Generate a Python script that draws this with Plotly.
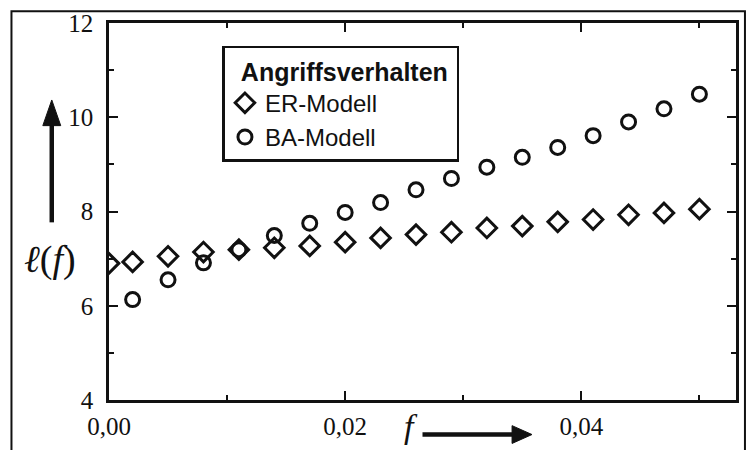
import plotly.graph_objects as go

# ---- data ----
f_er = [0.000, 0.002, 0.005, 0.008, 0.011, 0.014, 0.017, 0.020, 0.023, 0.026,
        0.029, 0.032, 0.035, 0.038, 0.041, 0.044, 0.047, 0.050]
l_er = [6.90, 6.93, 7.05, 7.14, 7.19, 7.23, 7.27, 7.35, 7.44, 7.51,
        7.56, 7.65, 7.69, 7.78, 7.83, 7.93, 7.97, 8.05]
f_ba = [0.002, 0.005, 0.008, 0.011, 0.014, 0.017, 0.020, 0.023, 0.026,
        0.029, 0.032, 0.035, 0.038, 0.041, 0.044, 0.047, 0.050]
l_ba = [6.13, 6.55, 6.91, 7.19, 7.49, 7.75, 7.98, 8.19, 8.46,
        8.70, 8.94, 9.15, 9.36, 9.61, 9.90, 10.18, 10.49]

x_tickvals = [0.0, 0.02, 0.04]
x_ticktext = ["0,00", "0,02", "0,04"]
y_tickvals = [4, 6, 8, 10, 12]
y_ticktext = ["4", "6", "8", "10", "12"]

legend_title = "Angriffsverhalten"
name_er = "ER-Modell"
name_ba = "BA-Modell"

# ---- layout geometry ----
W, H = 749, 450
L, R, T, B = 109, 10, 20, 48
PW, PH = W - L - R, H - T - B


def px(x):
    return (x - L) / PW


def py(y):
    return (H - B - y) / PH


INK = "#111111"
SERIF = "Liberation Serif, DejaVu Serif, serif"
SANS = "Liberation Sans, Arial, sans-serif"

fig = go.Figure()
fig.add_trace(go.Scatter(
    x=f_er, y=l_er, mode="markers", name=name_er,
    marker=dict(symbol="diamond-open", size=15, color=INK,
                line=dict(width=3, color=INK)),
))
fig.add_trace(go.Scatter(
    x=f_ba, y=l_ba, mode="markers", name=name_ba,
    marker=dict(symbol="circle-open", size=14, color=INK,
                line=dict(width=3, color=INK)),
))

axis_common = dict(
    showline=True, linecolor=INK, linewidth=2.5, mirror="ticks",
    ticks="inside", ticklen=9, tickwidth=2, tickcolor=INK,
    showgrid=False, zeroline=False,
    tickfont=dict(family=SERIF, size=25, color=INK),
)

fig.update_xaxes(
    range=[0, 0.0531], tickvals=x_tickvals, ticktext=x_ticktext,
    minor=dict(dtick=0.01, tick0=0, ticks="inside", ticklen=5, tickwidth=2,
               tickcolor=INK, showgrid=False),
    ticklabelstandoff=2,
    **axis_common,
)
fig.update_yaxes(
    range=[4, 12], tickvals=y_tickvals, ticktext=y_ticktext,
    minor=dict(dtick=1, tick0=0, ticks="inside", ticklen=5, tickwidth=2,
               tickcolor=INK, showgrid=False),
    ticklabelstandoff=8,
    **axis_common,
)

shapes = [
    # outer frame
    dict(type="rect", xref="paper", yref="paper",
         x0=px(11), x1=px(748), y0=py(470), y1=py(8),
         line=dict(color=INK, width=2), layer="below"),
    # y arrow shaft
    dict(type="line", xref="paper", yref="paper",
         x0=px(51.5), x1=px(51.5), y0=py(222), y1=py(118),
         line=dict(color=INK, width=4.5)),
    # y arrow head
    dict(type="path", xref="paper", yref="paper",
         path=f"M {px(51.5)},{py(98)} L {px(42.5)},{py(124)} L {px(60.5)},{py(124)} Z",
         fillcolor=INK, line=dict(color=INK, width=1)),
    # x arrow shaft
    dict(type="line", xref="paper", yref="paper",
         x0=px(424), x1=px(518), y0=py(437), y1=py(437),
         line=dict(color=INK, width=4.5)),
    # x arrow head
    dict(type="path", xref="paper", yref="paper",
         path=f"M {px(534)},{py(437)} L {px(514)},{py(428)} L {px(514)},{py(446)} Z",
         fillcolor=INK, line=dict(color=INK, width=1)),
]

annotations = [
    dict(xref="paper", yref="paper", x=px(50), y=py(260),
         text="<i>ℓ</i>(<i>f</i>)", showarrow=False,
         xanchor="center", yanchor="middle",
         font=dict(family=SERIF, size=38, color=INK)),
    dict(xref="paper", yref="paper", x=px(412), y=py(429),
         text="<i>f</i>", showarrow=False,
         xanchor="center", yanchor="middle",
         font=dict(family=SERIF, size=34, color=INK)),
]

fig.update_layout(
    width=W, height=H,
    margin=dict(l=L, r=R, t=T, b=B, pad=0),
    paper_bgcolor="white", plot_bgcolor="white",
    shapes=shapes, annotations=annotations,
    showlegend=True,
    legend=dict(
        x=px(223), y=py(43), xanchor="left", yanchor="top",
        bgcolor="white", bordercolor=INK, borderwidth=2.5,
        font=dict(family=SANS, size=24, color=INK),
        title=dict(text="\u00a0\u00a0<b>" + legend_title + "</b>\u00a0",
                   font=dict(family=SANS, size=25, color=INK)),
        itemsizing="trace", tracegroupgap=0,
    ),
)

fig.write_html("out.html")
